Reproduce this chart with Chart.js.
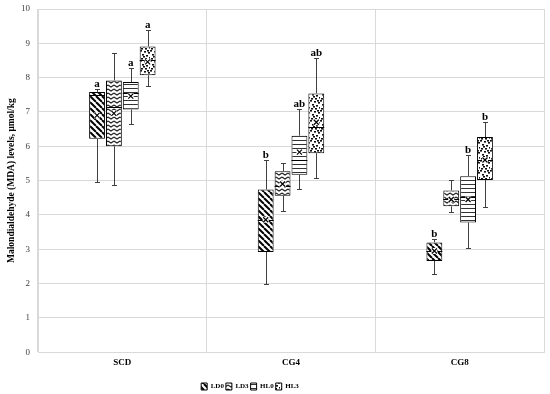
<!DOCTYPE html>
<html>
<head>
<meta charset="utf-8">
<script src="https://cdn.jsdelivr.net/npm/chart.js@4.4.1/dist/chart.umd.min.js"></script>
<style>
  html, body { margin: 0; padding: 0; background: #fff; }
  #wrap { width: 550px; height: 394px; }
</style>
</head>
<body>
<div id="wrap"><canvas id="mdaChart"></canvas></div>
<script>
// Datos
const categories = ['SCD', 'CG4', 'CG8'];
const seriesNames = ['LD0', 'LD3', 'HL0', 'HL3'];

// una fila por serie (LD0, LD3, HL0, HL3), una columna por categoría
const whiskerLow = [
    [4.95, 2.00, 2.27],
    [4.88, 4.10, 4.09],
    [6.64, 4.76, 3.05],
    [7.75, 5.09, 4.22]
];
const q1Vals = [
    [6.22, 2.92, 2.66],
    [6.00, 4.56, 4.25],
    [7.07, 5.17, 3.78],
    [8.07, 5.80, 5.02]
];
const medianVals = [
    [7.50, 3.86, 2.95],
    [7.14, 4.85, 4.45],
    [7.55, 5.60, 4.51],
    [8.50, 6.55, 5.60]
];
const q3Vals = [
    [7.58, 4.74, 3.20],
    [7.92, 5.27, 4.71],
    [7.87, 6.31, 5.13],
    [8.91, 7.54, 6.27]
];
const whiskerHigh = [
    [7.68, 5.60, 3.30],
    [8.72, 5.50, 5.02],
    [8.27, 7.08, 5.74],
    [9.38, 8.57, 6.70]
];
const meanVals = [
    [6.90, 3.86, 2.95],
    [6.96, 4.90, 4.45],
    [7.46, 5.83, 4.45],
    [8.46, 6.70, 5.60]
];
const letters = [
    ['a', 'b', 'b'],
    ['', '', ''],
    ['a', 'ab', 'b'],
    ['a', 'ab', 'b']
];

const serif = "'Liberation Serif', 'DejaVu Serif', serif";

// Tramas de relleno (patrones en blanco y negro)
function makePattern(kind) {
    const c = document.createElement('canvas');
    const g = c.getContext('2d');
    if (kind === 'diag') {
        c.width = 6; c.height = 6;
        g.fillStyle = '#fff'; g.fillRect(0, 0, 6, 6);
        g.strokeStyle = '#000'; g.lineWidth = 2;
        [-6, 0, 6].forEach(x0 => {
            g.beginPath(); g.moveTo(x0, 0); g.lineTo(x0 + 6, 6); g.stroke();
        });
    } else if (kind === 'zigzag') {
        c.width = 6; c.height = 4;
        g.fillStyle = '#fff'; g.fillRect(0, 0, 6, 4);
        g.strokeStyle = '#222'; g.lineWidth = 1.1;
        g.beginPath(); g.moveTo(0, 1); g.lineTo(3, 3); g.lineTo(6, 1); g.stroke();
    } else if (kind === 'hlines') {
        c.width = 4; c.height = 4;
        g.fillStyle = '#fff'; g.fillRect(0, 0, 4, 4);
        g.fillStyle = '#333'; g.fillRect(0, 0, 4, 1);
    } else {
        c.width = 10; c.height = 10;
        g.fillStyle = '#fff'; g.fillRect(0, 0, 10, 10);
        g.fillStyle = '#111';
        const dots = [[0, 0], [4, 1], [8, 2], [2, 4], [6, 5], [9, 7], [1, 8], [5, 8], [3, 6], [7, 0]];
        dots.forEach(p => g.fillRect(p[0], p[1], 2, 1.6));
    }
    return g.createPattern(c, 'repeat');
}

const patterns = [makePattern('diag'), makePattern('zigzag'), makePattern('hlines'), makePattern('dots')];

// Bigotes, mediana, media y letras
const boxExtras = {
    id: 'boxExtras',
    afterLayout(chart) {
        // la leyenda del original está algo desplazada a la izquierda
        chart.legend.right -= 44;
    },
    afterDatasetsDraw(chart) {
        const ctx = chart.ctx;
        const y = chart.scales.y;
        chart.data.datasets.forEach((ds, d) => {
            const meta = chart.getDatasetMeta(d);
            if (!chart.isDatasetVisible(d)) return;
            meta.data.forEach((bar, i) => {
                const x = Math.round(bar.x) + 0.5;
                const half = bar.width / 2;
                const yLo = Math.round(y.getPixelForValue(whiskerLow[d][i])) + 0.5;
                const yQ1 = y.getPixelForValue(q1Vals[d][i]);
                const yMed = Math.round(y.getPixelForValue(medianVals[d][i])) + 0.5;
                const yQ3 = y.getPixelForValue(q3Vals[d][i]);
                const yHi = Math.round(y.getPixelForValue(whiskerHigh[d][i])) + 0.5;
                const yMean = y.getPixelForValue(meanVals[d][i]);

                ctx.save();
                ctx.strokeStyle = '#404040';
                ctx.lineWidth = 1;
                ctx.beginPath();
                ctx.moveTo(x, yQ3); ctx.lineTo(x, yHi);
                ctx.moveTo(x - 2.5, yHi); ctx.lineTo(x + 2.5, yHi);
                ctx.moveTo(x, yQ1); ctx.lineTo(x, yLo);
                ctx.moveTo(x - 2.5, yLo); ctx.lineTo(x + 2.5, yLo);
                ctx.stroke();

                ctx.strokeStyle = '#000';
                ctx.beginPath();
                ctx.moveTo(bar.x - half, yMed); ctx.lineTo(bar.x + half, yMed);
                ctx.stroke();

                // marcador de la media (x)
                ctx.fillStyle = '#fff';
                ctx.fillRect(bar.x - 3, yMean - 3, 6, 6);
                ctx.lineWidth = 1.2;
                ctx.beginPath();
                ctx.moveTo(bar.x - 2.5, yMean - 2.5); ctx.lineTo(bar.x + 2.5, yMean + 2.5);
                ctx.moveTo(bar.x + 2.5, yMean - 2.5); ctx.lineTo(bar.x - 2.5, yMean + 2.5);
                ctx.stroke();

                if (letters[d][i]) {
                    ctx.fillStyle = '#000';
                    ctx.font = 'bold 11px ' + serif;
                    ctx.textAlign = 'center';
                    ctx.textBaseline = 'alphabetic';
                    ctx.fillText(letters[d][i], bar.x, yHi - 3);
                }
                ctx.restore();
            });
        });
    }
};

const datasets = seriesNames.map((name, d) => ({
    label: name,
    data: categories.map((c, i) => [q1Vals[d][i], q3Vals[d][i]]),
    backgroundColor: patterns[d],
    borderColor: '#000',
    borderWidth: 1,
    borderSkipped: false,
    categoryPercentage: 0.4,
    barPercentage: 0.94
}));

new Chart(document.getElementById('mdaChart'), {
    type: 'bar',
    data: { labels: categories, datasets: datasets },
    plugins: [boxExtras],
    options: {
        responsive: true,
        maintainAspectRatio: false,
        animation: false,
        layout: { padding: { top: 9, right: 6, left: 0, bottom: -6 } },
        plugins: {
            tooltip: { enabled: false },
            legend: {
                position: 'bottom',
                labels: {
                    boxWidth: 6,
                    boxHeight: 7,
                    padding: 2,
                    color: '#000',
                    font: { family: serif, size: 7, weight: 'bold' }
                }
            }
        },
        scales: {
            x: {
                afterFit: scale => { scale.height += 8; },
                grid: { color: '#d9d9d9', drawTicks: false, offset: true },
                border: { color: '#d9d9d9' },
                ticks: {
                    padding: 5,
                    color: '#000',
                    font: { family: serif, size: 9, weight: 'bold' }
                }
            },
            y: {
                min: 0,
                max: 10,
                afterFit: scale => {
                    scale.width = 38;
                    scale.paddingTop = 0;
                },
                grid: { color: '#d9d9d9', drawTicks: false },
                border: { color: '#d9d9d9' },
                ticks: {
                    stepSize: 1,
                    padding: 8,
                    color: '#404040',
                    font: { family: serif, size: 9 }
                },
                title: {
                    display: true,
                    text: 'Malondialdehyde (MDA) levels, μmol/kg',
                    color: '#000',
                    padding: { top: 6, bottom: 0 },
                    font: { family: serif, size: 9.5, weight: 'bold' }
                }
            }
        }
    }
});
</script>
</body>
</html>
